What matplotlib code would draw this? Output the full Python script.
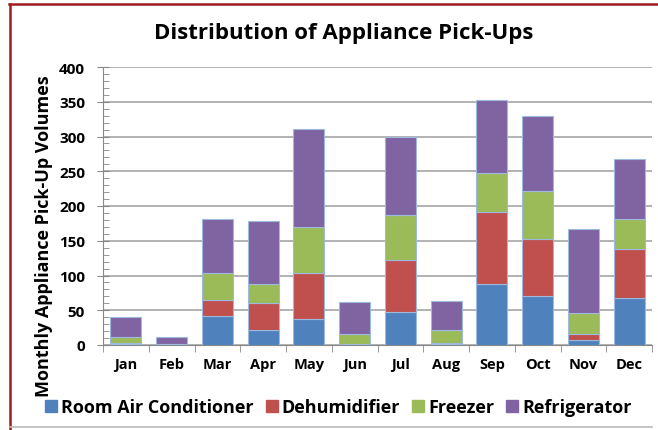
import matplotlib.pyplot as plt
from matplotlib.lines import Line2D
from matplotlib.ticker import MultipleLocator
import numpy as np

plt.rcParams['font.family'] = ['Open Sans', 'DejaVu Sans']
plt.rcParams['font.weight'] = 'bold'

months = ['Jan', 'Feb', 'Mar', 'Apr', 'May', 'Jun', 'Jul', 'Aug', 'Sep', 'Oct', 'Nov', 'Dec']
room_ac = [2, 1, 42, 22, 38, 1, 48, 2, 88, 70, 7, 68]
dehumidifier = [1, 0, 23, 38, 65, 0, 74, 1, 103, 83, 9, 70]
freezer = [8, 1, 38, 28, 67, 15, 65, 18, 56, 69, 30, 43]
refrigerator = [29, 10, 78, 90, 141, 46, 112, 42, 105, 107, 121, 87]

series = [('Room Air Conditioner', room_ac, '#4F81BD'),
          ('Dehumidifier', dehumidifier, '#C0504D'),
          ('Freezer', freezer, '#9BBB59'),
          ('Refrigerator', refrigerator, '#8064A2')]

fig = plt.figure(figsize=(6.58, 4.31), dpi=100)
ax = fig.add_axes([103/658, 1-346/431, 549/658, 278/431])

x = np.arange(len(months))
bottom = np.zeros(len(months))
for name, vals, col in series:
    ax.bar(x, vals, 0.68, bottom=bottom, color=col, edgecolor='#9DB9DD', linewidth=0.8, label=name, zorder=3)
    bottom += np.array(vals)

ax.set_xlim(-0.5, 11.5)
ax.set_ylim(0, 400)
ax.yaxis.set_major_locator(MultipleLocator(50))
ax.yaxis.set_minor_locator(MultipleLocator(10))
ax.set_xticks(x)
ax.set_xticklabels(months, fontsize=10.5, fontweight='bold')
ax.set_xticks(np.arange(-0.5, 12, 1), minor=True)
ax.tick_params(axis='x', which='major', length=0, pad=9)
ax.tick_params(axis='x', which='minor', length=5, color='#888888', direction='out')
ax.tick_params(axis='y', which='major', length=8, color='#888888', direction='inout', labelsize=11, pad=9)
ax.tick_params(axis='y', which='minor', length=4, color='#888888', direction='in')
for lbl in ax.get_yticklabels():
    lbl.set_fontweight('bold')
ax.grid(axis='y', which='major', color='#A6A6A6', linewidth=1.2, zorder=0)
for s in ['top', 'right']:
    ax.spines[s].set_visible(False)
ax.spines['left'].set_color('#888888')
ax.spines['bottom'].set_color('#888888')

ax.set_ylabel('Monthly Appliance Pick-Up Volumes', fontsize=13, fontweight='bold')
ax.yaxis.set_label_coords(-(103 - 53) / 549, (346 - 236) / 278)
fig.text(344/658, 1-33/431, 'Distribution of Appliance Pick-Ups', ha='center', va='center',
         fontsize=16, fontweight='bold')

handles = [Line2D([], [], marker='s', linestyle='none', markersize=9, markerfacecolor=c,
                  markeredgecolor=c) for _, _, c in series]
fig.legend(handles, [n for n, _, _ in series], loc='center', bbox_to_anchor=(337/658, 1-408/431),
           ncol=4, frameon=False, handletextpad=0.05, columnspacing=0.5, handlelength=1.0,
           prop={'weight': 'bold', 'size': 13})

# outer chart border
fig.add_artist(Line2D([9/658, 1], [1-5/431, 1-5/431], color='#A01C1C', linewidth=1.8))
fig.add_artist(Line2D([10/658, 10/658], [0, 1-5/431], color='#A01C1C', linewidth=1.8))
fig.add_artist(Line2D([10/658, 652/658], [1-428/431, 1-428/431], color='#BBBBBB', linewidth=1.2))

fig.savefig('out.png', dpi=100)
